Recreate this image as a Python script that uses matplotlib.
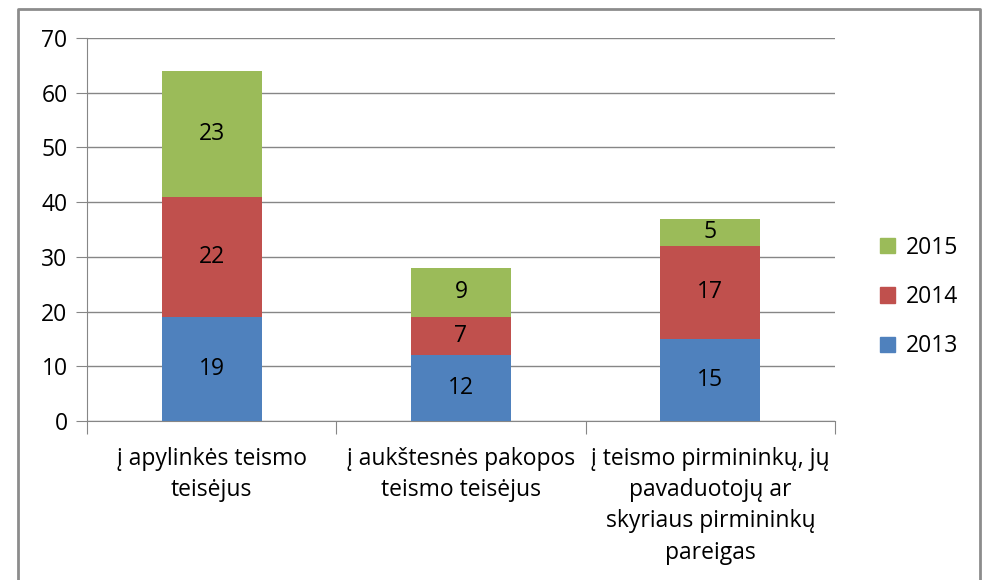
import numpy as np
import matplotlib
matplotlib.use("Agg")
import matplotlib.pyplot as plt
from matplotlib.patches import Rectangle
from matplotlib.lines import Line2D

categories = ["į apylinkės teismo\nteisėjus",
              "į aukštesnės pakopos\nteismo teisėjus",
              "į teismo pirmininkų, jų\npavaduotojų ar\nskyriaus pirmininkų\npareigas"]
years = ["2013", "2014", "2015"]
v2013 = [19, 12, 15]
v2014 = [22, 7, 17]
v2015 = [23, 9, 5]
colors = ["#4F81BD", "#C0504D", "#9BBB59"]
yticks = [0, 10, 20, 30, 40, 50, 60, 70]

plt.rcParams['font.family'] = ['Open Sans', 'DejaVu Sans']

fig = plt.figure(figsize=(9.84, 5.8), dpi=100)
ax = fig.add_axes([87/984, 1-421/580, (835-87)/984, (421-38)/580])

x = np.arange(len(categories))
bottom = np.zeros(len(categories))
series = [v2013, v2014, v2015]
for vals, col, yr in zip(series, colors, years):
    ax.bar(x, vals, 0.4, bottom=bottom, color=col, label=yr, zorder=3)
    for xi, v, bt in zip(x, vals, bottom):
        ax.text(xi, bt + v/2, str(v), ha='center', va='center', fontsize=16.5, color='black', zorder=4)
    bottom = bottom + np.array(vals)

ax.set_xlim(-0.5, 2.5)
ax.set_ylim(0, 70)
ax.set_yticks(yticks)
ax.set_yticklabels([str(t) for t in yticks], fontsize=16.5)
ax.yaxis.grid(True, color='#868686', linewidth=1.0, zorder=0)
ax.tick_params(axis='y', length=8, color='#868686', pad=6)
ax.set_xticks([-0.5, 0.5, 1.5, 2.5])
ax.set_xticklabels([])
ax.tick_params(axis='x', length=9, color='#868686')
for xi, lab in zip(x, categories):
    ax.text(xi, -0.068, lab, transform=ax.get_xaxis_transform(), ha='center', va='top',
            fontsize=16.5, linespacing=1.40)
for s in ['top', 'right']:
    ax.spines[s].set_visible(False)
for s in ['left', 'bottom']:
    ax.spines[s].set_color('#868686')

handles = [Rectangle((0, 0), 1, 1, color=c) for c in colors[::-1]]
fig.legend(handles, years[::-1], loc='center left', bbox_to_anchor=(859/984, 1-297/580),
           frameon=False, fontsize=16.5, handlelength=0.65, handleheight=0.65,
           labelspacing=1.1, handletextpad=0.5)

# outer chart border
fig.add_artist(Line2D([18/984, 18/984, 980/984, 980/984], [0, 1-9/580, 1-9/580, 0],
                      transform=fig.transFigure, color='#8C8C8C', linewidth=2))

fig.savefig("out.png", dpi=100)
